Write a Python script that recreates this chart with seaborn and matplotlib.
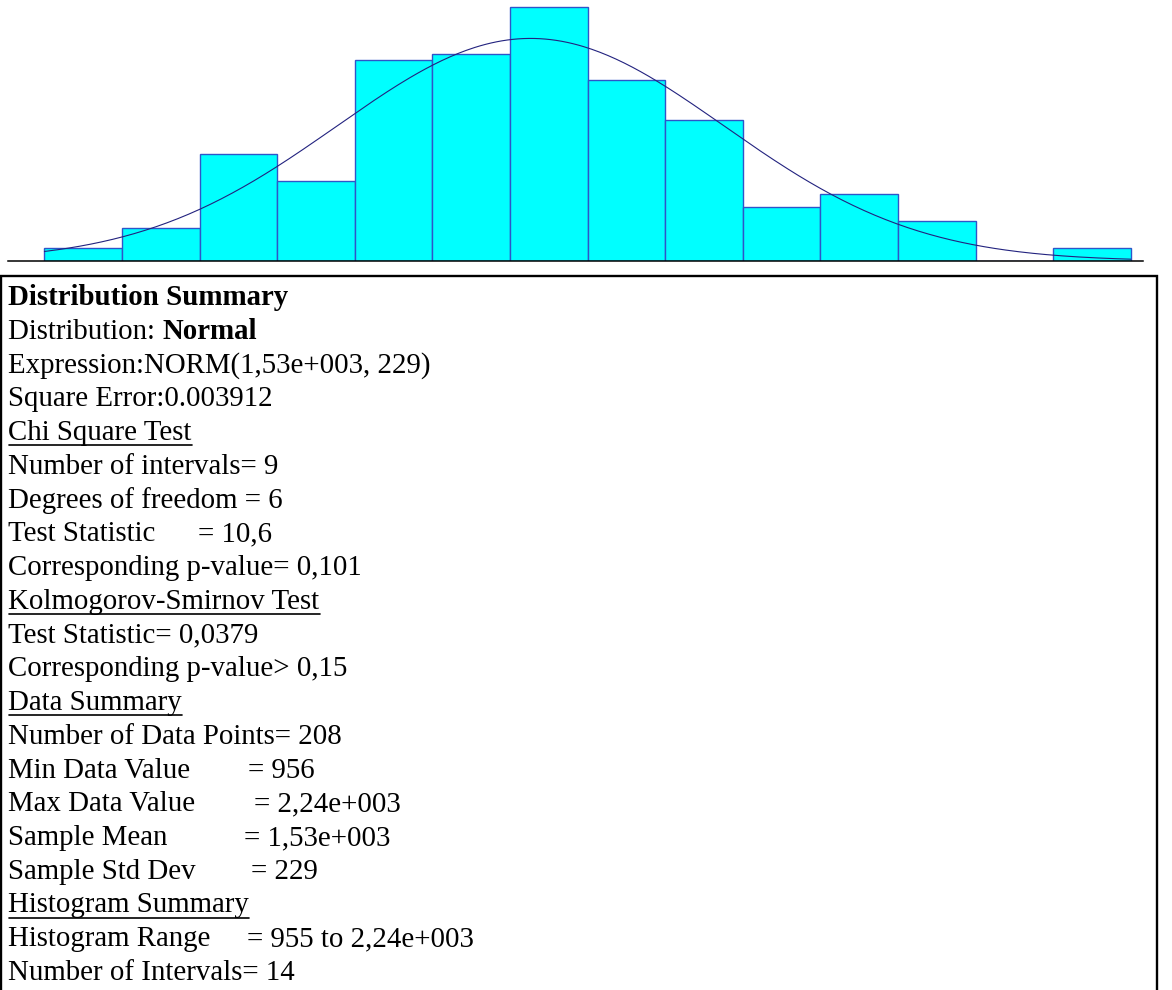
"""
Distribution fit summary: histogram with fitted normal curve and a text report below.
"""
import numpy as np
import pandas as pd
import matplotlib
matplotlib.use("Agg")
import matplotlib.pyplot as plt
from matplotlib.patches import Rectangle
from matplotlib.lines import Line2D
import seaborn as sns

# Data
hist_min = 955
hist_max = 2240
n_intervals = 14
bin_counts = [2, 5, 16, 12, 30, 31, 38, 27, 21, 8, 10, 6, 0, 2]
fit_mean = 1530
fit_std = 229
n_points = 208

# Report text
report_lines = [
    "Distribution Summary",
    "Distribution: ",
    "Expression:NORM(1,53e+003, 229)",
    "Square Error:0.003912",
    "Chi Square Test",
    "Number of intervals= 9",
    "Degrees of freedom = 6",
    "Test Statistic",
    "Corresponding p-value= 0,101",
    "Kolmogorov-Smirnov Test",
    "Test Statistic= 0,0379",
    "Corresponding p-value> 0,15",
    "Data Summary",
    "Number of Data Points= 208",
    "Min Data Value",
    "Max Data Value",
    "Sample Mean",
    "Sample Std Dev",
    "Histogram Summary",
    "Histogram Range",
    "Number of Intervals= 14",
]
tab_values = {7: "= 10,6", 14: "= 956", 15: "= 2,24e+003", 16: "= 1,53e+003",
              17: "= 229", 19: "= 955 to 2,24e+003"}
bold_lines = [0]
bold_suffix = {1: "Normal"}
underlined = [4, 9, 12, 18]

# Layout (pixels)
W, H = 1172, 990
tab_x = {7: 198, 14: 248, 15: 254, 16: 244, 17: 251, 19: 247}

sns.set_theme(style="white")
plt.rcParams["font.family"] = ["Liberation Serif", "DejaVu Serif"]

fig = plt.figure(figsize=(W / 100, H / 100), dpi=100)
fig.patch.set_facecolor("white")

# Histogram axes
ax_left, ax_right, ax_base = 7.7, 1142.5, 261
ax = fig.add_axes([ax_left / W, (H - ax_base) / H, (ax_right - ax_left) / W, ax_base / H])

edges = np.linspace(hist_min, hist_max, n_intervals + 1)
hist_df = pd.DataFrame({"center": (edges[:-1] + edges[1:]) / 2, "count": bin_counts})
sns.histplot(data=hist_df, x="center", weights="count", bins=list(edges), ax=ax,
             color="#00ffff", edgecolor="#2f55c8", linewidth=1.0, alpha=1.0)

# fitted normal curve, scaled to counts per interval
bw = edges[1] - edges[0]
xs = np.linspace(hist_min, hist_max, 400)
pdf = n_points * bw / (fit_std * np.sqrt(2 * np.pi)) * np.exp(-0.5 * ((xs - fit_mean) / fit_std) ** 2)
sns.lineplot(x=xs, y=pdf, ax=ax, color="#22227f", linewidth=0.8)

px_units = bw / 77.6
xmin = hist_min - (44.4 - ax_left) * px_units
ax.set_xlim(xmin, xmin + (ax_right - ax_left) * px_units)
ax.set_ylim(0, 39)
for side in ["left", "right", "top"]:
    ax.spines[side].set_visible(False)
ax.spines["bottom"].set_color("black")
ax.spines["bottom"].set_linewidth(1.1)
ax.set_xticks([])
ax.set_yticks([])
ax.set_xlabel("")
ax.set_ylabel("")
ax.set_facecolor("white")

# Report box
fig.add_artist(Rectangle((1 / W, -0.01), (1157 - 1) / W, (H - 276) / H + 0.01,
                         transform=fig.transFigure, fill=False,
                         edgecolor="black", linewidth=1.7))

fs = 20.8
x0 = 8.5
y_first, step = 305, 33.75
fig.canvas.draw()
renderer = fig.canvas.get_renderer()

for i, line in enumerate(report_lines):
    yb = y_first + step * i
    t = fig.text(x0 / W, 1 - yb / H, line, fontsize=fs, va="baseline", ha="left",
                 color="black", fontweight="bold" if i in bold_lines else "normal")
    if i in bold_suffix:
        ext = t.get_window_extent(renderer)
        fig.text(ext.x1 / W, 1 - yb / H, bold_suffix[i], fontsize=fs, va="baseline",
                 ha="left", color="black", fontweight="bold")
    if i in tab_values:
        fig.text(tab_x[i] / W, 1 - yb / H, tab_values[i], fontsize=fs, va="baseline",
                 ha="left", color="black")
    if i in underlined:
        ext = t.get_window_extent(renderer)
        uy = 1 - (yb + 5) / H
        fig.add_artist(Line2D([ext.x0 / W, ext.x1 / W], [uy, uy], transform=fig.transFigure,
                              color="black", linewidth=1.2))

fig.savefig("out.png", dpi=100, facecolor="white")
